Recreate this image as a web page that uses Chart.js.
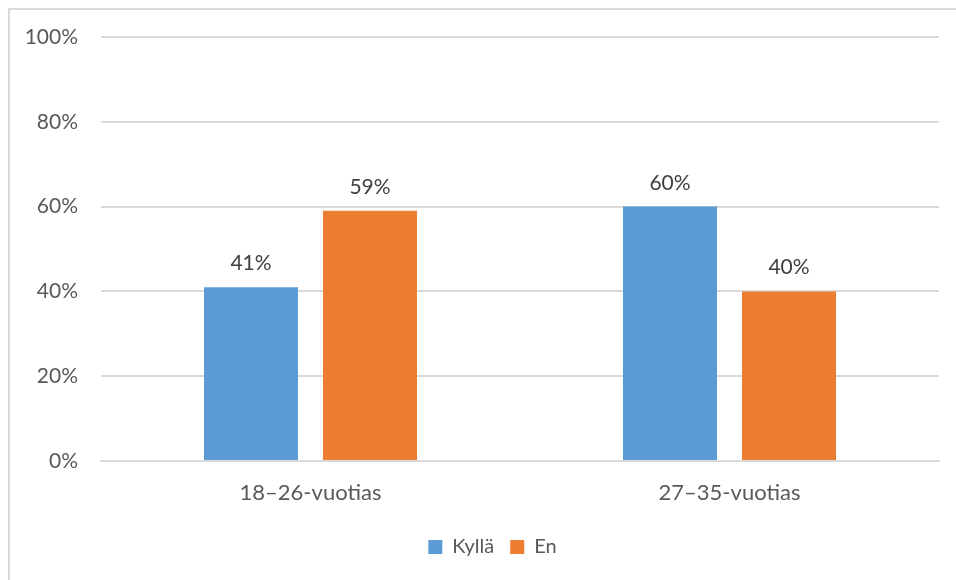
<!DOCTYPE html>
<html>
<head>
<meta charset="utf-8">
<script src="https://cdn.jsdelivr.net/npm/chart.js@4"></script>
<style>
  html, body { margin: 0; padding: 0; background: #fff; overflow: hidden; }
  #frame { position: absolute; left: 8px; top: 8px; width: 1200px; height: 1200px; border: 2px solid #d9d9d9; box-sizing: border-box; }
  #chart { position: absolute; left: 0; top: 0; }
</style>
</head>
<body>
<div id="frame"></div>
<canvas id="chart" width="956" height="580"></canvas>
<script>
// data
const categories = ['18–26-vuotias', '27–35-vuotias'];
const kyllaValues = [41, 60];
const enValues = [59, 40];
const seriesNames = ['Kyllä', 'En'];

// draws the % label over each bar
const barLabels = {
    id: 'barLabels',
    afterDatasetsDraw(chart) {
        const ctx = chart.ctx;
        ctx.save();
        ctx.font = '21px Lato';
        ctx.fillStyle = '#404040';
        ctx.textAlign = 'center';
        ctx.textBaseline = 'alphabetic';
        chart.data.datasets.forEach((ds, i) => {
            chart.getDatasetMeta(i).data.forEach((bar, j) => {
                ctx.fillText(ds.data[j] + '%', bar.x, bar.y - 17);
            });
        });
        ctx.restore();
    }
};

// legend in the original sits a bit right of the canvas center
const legendShift = {
    id: 'legendShift',
    afterLayout(chart) {
        if (chart.legend) {
            chart.legend.left += 23;
            chart.legend.right += 23;
        }
    }
};

new Chart(document.getElementById('chart').getContext('2d'), {
    type: 'bar',
    data: {
        labels: categories,
        datasets: [{
            label: seriesNames[0],
            data: kyllaValues,
            backgroundColor: '#5B9BD5'
        }, {
            label: seriesNames[1],
            data: enValues,
            backgroundColor: '#ED7D31'
        }]
    },
    options: {
        responsive: false,
        animation: false,
        categoryPercentage: 0.568,
        barPercentage: 0.79,
        layout: { padding: { top: 37, right: 17, bottom: 13, left: 0 } },
        scales: {
            x: {
                grid: { display: false },
                border: { color: '#d9d9d9', width: 2 },
                ticks: { color: '#595959', font: { family: 'Lato', size: 22 }, padding: 11 },
                afterFit(scale) { scale.height = 60; }
            },
            y: {
                min: 0,
                max: 100,
                grid: { color: '#d9d9d9', lineWidth: 2, drawTicks: false },
                border: { display: false },
                ticks: {
                    stepSize: 20,
                    color: '#595959',
                    font: { family: 'Lato', size: 21 },
                    padding: 23,
                    callback: v => v + '%'
                },
                afterFit(scale) { scale.width = 101; }
            }
        },
        plugins: {
            legend: {
                position: 'bottom',
                labels: {
                    boxWidth: 14,
                    boxHeight: 14,
                    padding: 16,
                    color: '#595959',
                    font: { family: 'Lato', size: 20 }
                }
            },
            tooltip: { enabled: false }
        }
    },
    plugins: [barLabels, legendShift]
});
</script>
</body>
</html>
